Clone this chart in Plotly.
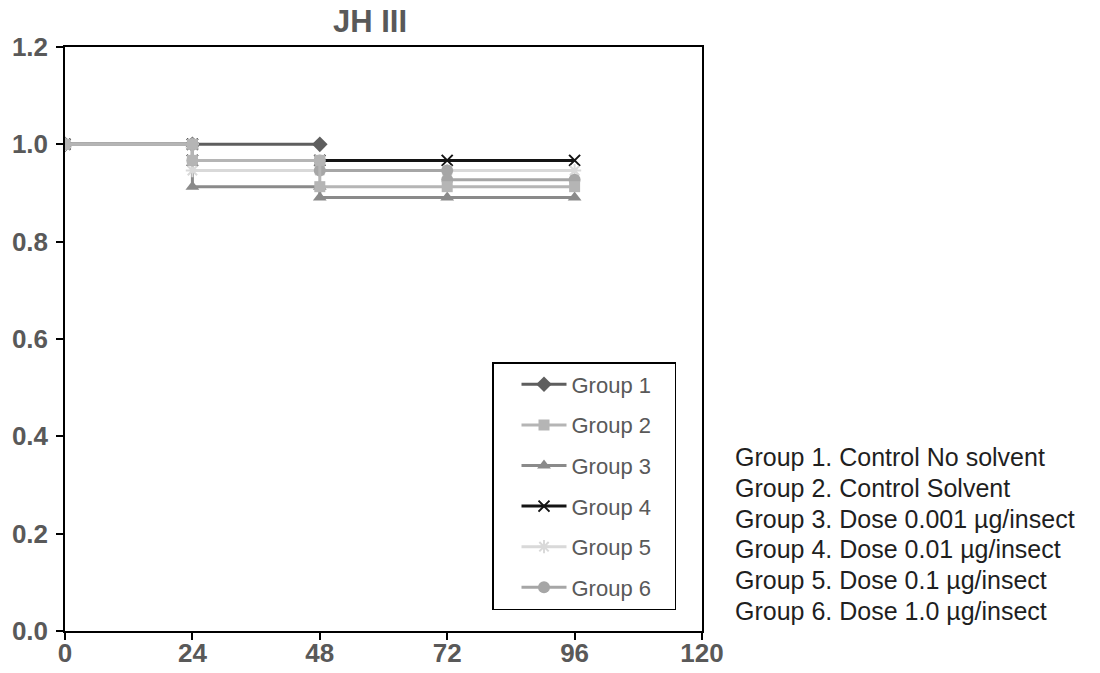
import plotly.graph_objects as go

times = [0, 24, 48, 72, 96]
group_names = ["Group 1", "Group 2", "Group 3", "Group 4", "Group 5", "Group 6"]
g1 = [1.0, 1.0, 1.0]
g2 = [1.0, 0.967, 0.913, 0.913, 0.913]
g3 = [1.0, 0.913, 0.891, 0.891, 0.891]
g4 = [1.0, 0.967, 0.967, 0.967, 0.967]
g5 = [1.0, 0.946, 0.946, 0.946, 0.946]
g6 = [1.0, 0.967, 0.946, 0.927, 0.927]
descriptions = [
    "Group 1. Control No solvent",
    "Group 2. Control Solvent",
    "Group 3. Dose 0.001 µg/insect",
    "Group 4. Dose 0.01 µg/insect",
    "Group 5. Dose 0.1 µg/insect",
    "Group 6. Dose 1.0 µg/insect",
]
x_ticks = [0, 24, 48, 72, 96, 120]
y_ticks = [0.0, 0.2, 0.4, 0.6, 0.8, 1.0, 1.2]

series = [g1, g2, g3, g4, g5, g6]
colors = ["#5e5e5e", "#b5b5b5", "#8a8a8a", "#141414", "#d9d9d9", "#a6a6a6"]
symbols = ["diamond", "square", "triangle-up", "x-thin", "asterisk", "circle"]
sizes = [12, 11, 12, 11, 11, 12]
draw_order = [0, 2, 3, 4, 5, 1]


def step_points(t, s):
    xs, ys = [t[0]], [s[0]]
    for i in range(1, len(s)):
        xs.append(t[i]); ys.append(s[i - 1])
        if s[i] != s[i - 1]:
            xs.append(t[i]); ys.append(s[i])
    return xs, ys


fig = go.Figure()
for i in draw_order:
    name, s = group_names[i], series[i]
    xs, ys = step_points(times, s)
    mline = dict(width=0)
    if symbols[i] in ("x-thin", "asterisk"):
        mline = dict(width=2, color=colors[i])
    fig.add_trace(go.Scatter(
        x=xs, y=ys, mode="lines+markers", name=name + "\u00a0" * 3, legendgroup=name,
        legendrank=i + 1,
        line=dict(color=colors[i], width=3),
        marker=dict(symbol=symbols[i], size=sizes[i], color=colors[i], line=mline),
    ))

for k, d in enumerate(descriptions):
    fig.add_annotation(
        text=d, xref="paper", yref="paper", x=(733 - 65) / 637, y=(631 - 457 - k * 30.8) / 584,
        xanchor="left", yanchor="middle", showarrow=False,
        font=dict(family="Liberation Sans, Arial", size=25, color="#1f1f1f"),
    )

axis_font = dict(family="Liberation Sans, Arial", size=26, color="#595959", weight="bold")
fig.update_layout(
    width=1100, height=673,
    margin=dict(l=65, r=398, t=47, b=42),
    paper_bgcolor="white", plot_bgcolor="white",
    title=dict(text="JH III", x=370 / 1100, xanchor="center",
               y=1 - 21 / 673, yanchor="middle",
               font=dict(family="Liberation Sans, Arial", size=31, color="#595959", weight="bold")),
    xaxis=dict(range=[0, 120], tickvals=x_ticks, ticktext=[str(v) for v in x_ticks],
               showline=True, linecolor="black", linewidth=1.5, mirror=True,
               ticks="outside", ticklen=7, tickcolor="black", tickwidth=1.5,
               showgrid=False, zeroline=False, tickfont=axis_font, automargin=False,
               ticklabelstandoff=-9),
    yaxis=dict(range=[0, 1.2], tickvals=y_ticks, ticktext=[f"{v:.1f}" for v in y_ticks],
               showline=True, linecolor="black", linewidth=1.5, mirror=True,
               ticks="outside", ticklen=7, tickcolor="black", tickwidth=1.5,
               showgrid=False, zeroline=False, tickfont=axis_font, automargin=False,
               ticklabelstandoff=3),
    legend=dict(x=(492 - 65) / 637, y=(631 - 362) / 584, xanchor="left", yanchor="top",
                bordercolor="black", borderwidth=1.5, bgcolor="white",
                font=dict(family="Liberation Sans, Arial", size=22, color="#595959"),
                tracegroupgap=9, indentation=23, itemwidth=45),
    showlegend=True,
)

fig.write_html("out.html")
